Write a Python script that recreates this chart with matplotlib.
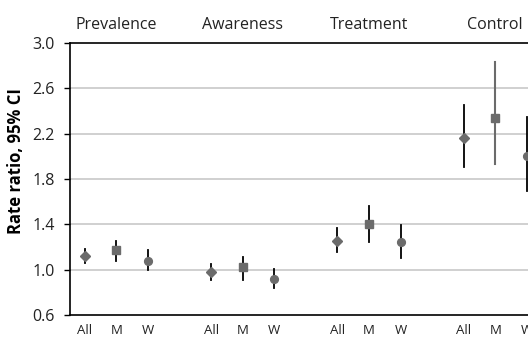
import matplotlib
matplotlib.use("Agg")
import matplotlib.pyplot as plt
import numpy as np

plt.rcParams["font.family"] = ["Open Sans", "DejaVu Sans"]

# rate ratios with 95% CI, per outcome group and subgroup
groups = ["Prevalence", "Awareness", "Treatment", "Control"]
subgroups = ["All", "M", "W"]
rr = [[1.12, 1.17, 1.08],
      [0.98, 1.02, 0.92],
      [1.25, 1.40, 1.24],
      [2.16, 2.34, 2.00]]
ci_low = [[1.06, 1.08, 1.00],
          [0.91, 0.91, 0.84],
          [1.16, 1.24, 1.10],
          [1.91, 1.93, 1.69]]
ci_high = [[1.18, 1.25, 1.17],
           [1.05, 1.115, 1.01],
           [1.365, 1.565, 1.39],
           [2.45, 2.83, 2.35]]
yticks = [0.6, 1.0, 1.4, 1.8, 2.2, 2.6, 3.0]

markers = {"All": "D", "M": "s", "W": "o"}
msizes = {"All": 4.6, "M": 5.4, "W": 5.6}

fig = plt.figure(figsize=(5.28, 3.40), dpi=100)
ax = fig.add_axes([0.1326, 0.0735, 0.895, 0.80])

xpos, xlab = [], []
for g, name in enumerate(groups):
    for s, sub in enumerate(subgroups):
        x = g * 4 + s
        xpos.append(x)
        xlab.append(sub)
        lo, hi, v = ci_low[g][s], ci_high[g][s], rr[g][s]
        # the Control/M interval is drawn grey in the original
        grey_bar = name == "Control" and sub == "M"
        ax.plot([x, x], [lo, hi], color="#6b6b6b" if grey_bar else "black",
                lw=1.5 if grey_bar else 1.3, zorder=3)
        ax.plot(x, v, marker=markers[sub], ms=msizes[sub], color="#6b6b6b",
                mec="#6b6b6b", ls="none", zorder=4)
    ax.text(g * 4 + 1, 3.16, name, ha="center", va="center", fontsize=11.5,
            color="#222222")

ax.set_xlim(-0.47, 14.5)
ax.set_ylim(0.6, 3.0)
ax.set_yticks(yticks)
ax.set_yticklabels([f"{t:.1f}" for t in yticks], fontsize=11.5, color="#222222")
ax.set_xticks(xpos)
ax.set_xticklabels(xlab, fontsize=9.5, color="#222222")
ax.tick_params(axis="x", length=0, pad=6.5)
ax.tick_params(axis="y", length=4, width=1, direction="out", pad=7)
for t in yticks[1:-1]:
    ax.axhline(t, color="#c8c8c8", lw=1.2, zorder=1)

for sp in ["left", "bottom", "top"]:
    ax.spines[sp].set_linewidth(1.2)
    ax.spines[sp].set_color("black")
ax.spines["right"].set_visible(False)

ax.set_ylabel("Rate ratio, 95% CI", fontsize=12, fontweight="bold")
ax.yaxis.set_label_coords(-0.095, 0.566)

fig.savefig("out.png", dpi=100)
